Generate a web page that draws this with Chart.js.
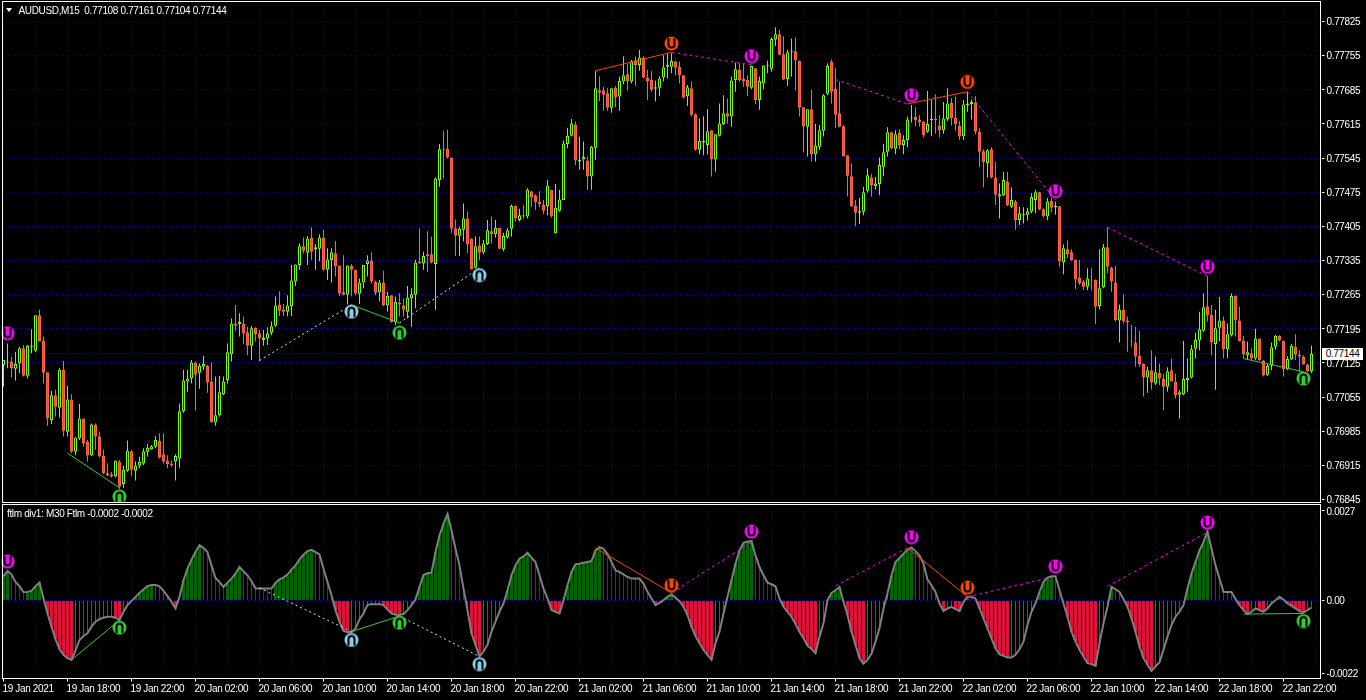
<!DOCTYPE html>
<html>
<head>
<meta charset="utf-8">
<title>AUDUSD,M15</title>
<script src="https://cdn.jsdelivr.net/npm/chart.js@4/dist/chart.umd.min.js"></script>
<style>
  html, body { margin: 0; padding: 0; background: #000; overflow: hidden; }
  #wrap { position: relative; width: 1366px; height: 700px; background: #000; }
  canvas { position: absolute; left: 0; display: block; }
  .label { position: absolute; color: #fff; font: 10px "Liberation Sans", sans-serif; letter-spacing: -0.35px; white-space: pre; line-height: 12px; }
  #arrow { position: absolute; left: 6px; top: 8px; width: 0; height: 0; border-left: 3.5px solid transparent; border-right: 3.5px solid transparent; border-top: 4px solid #fff; }
  #bidTag { position: absolute; left: 1322px; top: 348px; width: 41px; height: 12px; background: #fff; color: #000; font: 10px "Liberation Sans", sans-serif; letter-spacing: -0.35px; line-height: 12px; text-align: center; }
</style>
</head>
<body>
<div id="wrap">
  <canvas id="mainChart" width="1366" height="503" style="top:0"></canvas>
  <canvas id="subChart" width="1366" height="200" style="top:500px"></canvas>
  <div id="arrow"></div>
  <div class="label" style="left:18.5px;top:4.5px">AUDUSD,M15  0.77108 0.77161 0.77104 0.77144</div>
  <div class="label" style="left:7px;top:507.5px">ftlm div1: M30 Ftlm -0.0002 -0.0002</div>
  <div id="bidTag">0.77144</div>
</div>
<script>
// AUDUSD M15 candles, all prices in 1e-5 units (one row = ten bars)
const opens = [
  77121,77126,77128,77113,77124,77155,77099,77158,77150,77223,
  77171,77106,77008,77059,77033,77111,76984,77050,76943,76970,
  77011,76963,76936,76999,76974,76934,76899,76897,76892,76923,
  76877,76904,76944,76904,76914,76919,76943,76948,76953,76965,
  76938,76925,76919,76923,76929,77026,77087,77093,77126,77105,
  77117,77119,77087,77003,77018,77061,77090,77143,77205,77205,
  77206,77188,77160,77197,77186,77172,77175,77187,77201,77245,
  77234,77230,77242,77292,77326,77364,77351,77382,77358,77359,
  77382,77316,77336,77350,77325,77270,77265,77324,77316,77267,
  77290,77328,77335,77292,77270,77290,77243,77264,77209,77248,
  77243,77230,77258,77265,77333,77329,77348,77348,77328,77500,
  77563,77564,77546,77401,77386,77398,77421,77380,77320,77366,
  77352,77369,77395,77389,77402,77358,77382,77400,77448,77418,
  77428,77425,77477,77469,77456,77450,77447,77480,77391,77437,
  77459,77574,77591,77614,77538,77542,77540,77507,77566,77684,
  77684,77678,77648,77689,77671,77702,77717,77702,77745,77736,
  77751,77710,77706,77687,77689,77710,77732,77732,77743,77732,
  77715,77672,77688,77635,77562,77577,77572,77602,77542,77591,
  77615,77637,77630,77705,77726,77708,77705,77689,77729,77664,
  77698,77733,77728,77788,77799,77758,77707,77763,77764,77744,
  77649,77609,77645,77553,77568,77601,77677,77743,77687,77637,
  77610,77551,77508,77448,77433,77435,77478,77505,77488,77492,
  77527,77558,77598,77564,77597,77572,77582,77626,77629,77624,
  77619,77599,77623,77626,77612,77602,77625,77658,77628,77612,
  77590,77654,77656,77659,77599,77559,77535,77563,77504,77466,
  77469,77496,77445,77456,77418,77429,77429,77435,77459,77475,
  77440,77425,77457,77444,77446,77331,77358,77352,77337,77300,
  77291,77281,77296,77295,77242,77280,77362,77320,77290,77212,
  77234,77212,77170,77167,77139,77123,77095,77110,77083,77105,
  77093,77076,77110,77087,77060,77061,77090,77095,77154,77171,
  77191,77241,77224,77164,77197,77212,77153,77182,77262,77212,
  77171,77141,77145,77134,77175,77130,77101,77119,77158,77181,
  77170,77112,77132,77158,77142,77138,77122,77108
];
const highs = [
  77131,77165,77138,77148,77158,77162,77162,77194,77223,77234,
  77179,77106,77068,77070,77114,77129,77078,77061,76972,77041,
  77011,76967,77001,77001,76984,76947,76919,76902,76925,76926,
  76914,76966,76947,76923,76932,76950,76959,76957,76975,76981,
  76981,76936,76925,76938,77042,77111,77111,77131,77128,77124,
  77139,77121,77126,77097,77098,77097,77165,77216,77244,77227,
  77220,77199,77201,77198,77193,77193,77198,77210,77261,77272,
  77246,77264,77326,77327,77370,77382,77385,77403,77369,77389,
  77398,77360,77360,77375,77325,77346,77325,77328,77316,77298,
  77326,77346,77352,77294,77295,77314,77271,77264,77261,77268,
  77257,77283,77278,77336,77401,77353,77395,77384,77505,77574,
  77601,77603,77546,77419,77404,77452,77436,77380,77384,77384,
  77377,77418,77425,77418,77402,77392,77401,77450,77448,77441,
  77449,77483,77477,77471,77477,77459,77500,77480,77492,77480,
  77581,77607,77625,77620,77589,77579,77548,77570,77724,77713,
  77691,77688,77688,77693,77712,77754,77739,77746,77753,77767,
  77754,77726,77724,77704,77713,77756,77760,77760,77745,77743,
  77715,77695,77702,77637,77626,77631,77645,77602,77594,77657,
  77674,77667,77712,77741,77739,77739,77715,77734,77729,77712,
  77735,77745,77792,77813,77808,77795,77767,77790,77792,77745,
  77649,77645,77685,77615,77613,77676,77739,77747,77729,77702,
  77613,77551,77534,77459,77463,77486,77524,77513,77506,77546,
  77574,77608,77599,77602,77604,77592,77630,77654,77649,77633,
  77621,77683,77664,77676,77633,77660,77688,77668,77671,77621,
  77664,77681,77665,77672,77606,77563,77563,77567,77537,77493,
  77517,77517,77485,77459,77445,77444,77443,77473,77480,77476,
  77442,77463,77463,77456,77447,77368,77376,77358,77337,77336,
  77295,77319,77319,77296,77358,77369,77403,77322,77324,77245,
  77266,77220,77203,77199,77191,77124,77117,77151,77138,77124,
  77103,77116,77134,77103,77069,77170,77134,77162,77187,77230,
  77268,77303,77244,77234,77260,77220,77206,77268,77264,77240,
  77180,77169,77155,77195,77175,77131,77124,77167,77183,77182,
  77171,77139,77164,77184,77151,77141,77124,77161
];
const lows = [
  77076,77114,77095,77089,77104,77097,77093,77145,77147,77169,
  77083,76996,77000,77015,77013,76974,76974,76940,76936,76967,
  76953,76923,76934,76947,76931,76897,76893,76890,76890,76866,
  76869,76902,76893,76884,76909,76916,76933,76947,76950,76929,
  76919,76909,76912,76884,76910,77023,77066,77083,77027,77072,
  77111,77064,77003,76996,77015,77059,77083,77128,77191,77179,
  77164,77141,77131,77169,77128,77160,77162,77182,77199,77221,
  77221,77220,77221,77283,77316,77350,77326,77336,77316,77333,
  77314,77295,77290,77302,77262,77264,77245,77261,77264,77246,
  77278,77302,77288,77264,77251,77242,77230,77208,77203,77220,
  77220,77216,77199,77237,77329,77316,77312,77329,77234,77486,
  77503,77544,77391,77344,77344,77374,77350,77316,77318,77335,
  77348,77367,77370,77382,77358,77354,77380,77384,77415,77415,
  77421,77421,77445,77439,77444,77430,77428,77423,77391,77435,
  77459,77565,77589,77531,77521,77521,77480,77480,77541,77662,
  77642,77642,77638,77649,77642,77697,77683,77698,77693,77724,
  77708,77664,77681,77661,77672,77702,77708,77719,77715,77698,
  77667,77652,77630,77560,77553,77551,77553,77507,77517,77589,
  77613,77616,77609,77681,77702,77691,77672,77686,77656,77644,
  77686,77719,77722,77775,77756,77705,77693,77712,77683,77630,
  77557,77548,77538,77538,77562,77589,77674,77657,77607,77608,
  77548,77466,77445,77406,77410,77428,77474,77466,77480,77469,
  77508,77548,77563,77553,77563,77553,77567,77618,77611,77609,
  77587,77597,77590,77595,77587,77595,77621,77612,77601,77582,
  77582,77640,77624,77594,77527,77485,77505,77503,77449,77421,
  77467,77447,77442,77398,77408,77411,77417,77432,77432,77438,
  77423,77418,77434,77429,77322,77307,77340,77334,77276,77285,
  77274,77274,77274,77205,77235,77278,77309,77271,77210,77167,
  77206,77148,77157,77117,77117,77056,77064,77070,77080,77080,
  77028,77066,77087,77052,77011,77059,77066,77093,77134,77151,
  77189,77210,77141,77070,77169,77134,77134,77179,77179,77169,
  77134,77131,77131,77131,77130,77097,77098,77110,77152,77169,
  77097,77110,77131,77131,77107,77122,77107,77104
];
const closes = [
  77131,77128,77114,77123,77155,77099,77160,77161,77223,77169,
  77105,77011,77059,77035,77111,76986,77050,76943,76972,77011,
  76960,76935,76999,76974,76933,76899,76895,76892,76925,76871,
  76906,76945,76906,76915,76922,76944,76951,76954,76967,76931,
  76923,76918,76916,76934,77026,77089,77093,77126,77101,77119,
  77123,77085,77004,77018,77065,77087,77147,77206,77201,77209,
  77186,77160,77196,77184,77175,77176,77186,77200,77243,77232,
  77230,77243,77294,77327,77364,77355,77380,77353,77362,77382,
  77316,77337,77352,77324,77268,77265,77325,77316,77268,77290,
  77326,77335,77292,77269,77290,77244,77262,77209,77250,77245,
  77234,77259,77266,77331,77329,77344,77344,77331,77503,77563,
  77562,77546,77400,77386,77400,77421,77369,77317,77364,77351,
  77370,77397,77389,77402,77359,77385,77397,77447,77421,77428,
  77425,77480,77464,77455,77451,77437,77489,77425,77443,77460,
  77575,77591,77616,77540,77541,77547,77507,77568,77688,77679,
  77675,77648,77688,77669,77703,77715,77702,77743,77736,77751,
  77710,77702,77685,77690,77708,77731,77736,77744,77730,77715,
  77669,77690,77634,77562,77580,77580,77600,77543,77594,77616,
  77637,77630,77704,77727,77705,77703,77691,77734,77664,77703,
  77735,77734,77789,77799,77757,77706,77762,77764,77746,77648,
  77611,77645,77553,77571,77602,77674,77734,77681,77634,77609,
  77548,77509,77447,77433,77436,77475,77510,77490,77493,77531,
  77557,77598,77565,77594,77572,77582,77624,77627,77623,77619,
  77592,77615,77624,77623,77602,77626,77657,77627,77615,77589,
  77655,77657,77660,77599,77558,77537,77561,77505,77470,77471,
  77500,77449,77459,77418,77432,77431,77436,77465,77475,77440,
  77426,77456,77443,77447,77333,77360,77348,77336,77296,77289,
  77281,77298,77294,77240,77278,77362,77322,77292,77213,77234,
  77211,77208,77169,77138,77122,77095,77110,77085,77106,77093,
  77076,77108,77087,77059,77065,77092,77095,77153,77172,77194,
  77239,77223,77167,77196,77212,77153,77184,77262,77212,77170,
  77143,77147,77134,77175,77130,77100,77119,77157,77180,77171,
  77112,77133,77160,77142,77138,77122,77108,77144
];

// Ftlm indicator values, 1e-5 units
const ftlm = [
  73,89,79,56,43,25,26,29,43,54,
  6,-39,-79,-117,-147,-164,-174,-179,-151,-119,
  -107,-99,-79,-64,-56,-52,-49,-49,-52,-59,
  -34,-14,-1,11,23,33,43,47,47,43,
  29,13,-4,-24,11,61,96,123,146,167,
  158,146,106,68,56,41,54,66,81,101,
  88,76,58,37,36,36,36,36,53,64,
  69,78,93,106,124,138,149,153,146,139,
  96,56,16,-29,-64,-91,-96,-96,-84,-57,
  -39,-13,-11,-11,-11,-14,-27,-39,-43,-44,
  -41,-29,-14,3,41,77,82,84,146,196,
  231,261,211,156,106,36,-29,-99,-134,-169,
  -154,-134,-94,-64,-34,-9,31,76,106,126,
  133,144,129,116,76,36,6,-29,-34,-39,
  1,46,86,109,111,114,116,119,151,161,
  156,141,116,91,86,79,71,66,66,66,
  51,26,6,-14,-7,1,11,18,9,-2,
  -19,-44,-79,-107,-129,-149,-164,-179,-129,-94,
  -39,11,61,111,151,174,178,179,136,101,
  76,54,49,43,6,-19,-34,-49,-71,-94,
  -114,-136,-146,-159,-109,-69,1,23,31,41,
  -4,-44,-94,-134,-174,-191,-179,-161,-124,-84,
  -24,21,76,116,128,141,153,160,149,136,
  111,63,46,26,-9,-32,-24,-19,-26,-32,
  -4,11,11,6,-24,-54,-84,-114,-144,-162,
  -167,-172,-172,-164,-147,-124,-74,-34,-9,26,
  56,69,73,73,31,-9,-49,-94,-124,-149,
  -169,-189,-192,-197,-129,-69,-19,41,34,26,
  4,-19,-54,-94,-139,-174,-194,-212,-199,-186,
  -149,-109,-74,-49,-34,-14,36,81,116,151,
  176,208,156,106,66,26,26,26,4,-14,
  -29,-41,-34,-24,-29,-34,-24,-9,1,11,
  3,-9,-16,-24,-32,-36,-29,-21
];

// axis labels
const priceTicks = [77825,77755,77685,77615,77545,77475,77405,77335,77265,77195,77125,77055,76985,76915,76845];
const levelTicks = [77405,77335,77265,77195,77125];
const ftlmTicks = [270,0,-220];
const timeLabels = ['19 Jan 2021','19 Jan 18:00','19 Jan 22:00','20 Jan 02:00','20 Jan 06:00','20 Jan 10:00','20 Jan 14:00',
  '20 Jan 18:00','20 Jan 22:00','21 Jan 02:00','21 Jan 06:00','21 Jan 10:00','21 Jan 14:00','21 Jan 18:00','21 Jan 22:00',
  '22 Jan 02:00','22 Jan 06:00','22 Jan 10:00','22 Jan 14:00','22 Jan 18:00','22 Jan 22:00'];

// signal arrows: [bar, value]
const magentaMain = [[1,77186],[187,77754],[227,77674],[263,77477],[301,77322]];
const orangeMain = [[167,77780],[241,77701]];
const skyMain = [[87,77230],[119,77305]];
const greenMain = [[29,76851],[99,77187],[325,77093]];
const magentaSub = [[1,118],[187,208],[227,191],[263,103],[301,235]];
const orangeSub = [[167,46],[241,39]];
const skySub = [[87,-119],[119,-192]];
const greenSub = [[29,-82],[99,-67],[325,-62]];

// divergence lines: [bar, value, bar, value]
const greenLinesMain = [[16,76940,29,76869],[87,77244,99,77207],[310,77134,325,77107]];
const skyLinesMain = [[64,77130,87,77244],[99,77207,119,77320]];
const orangeLinesMain = [[148,77724,167,77762],[226,77656,241,77681]];
const magentaLinesMain = [[167,77762,187,77736],[208,77706,226,77656],[241,77681,263,77459],[276,77403,301,77303]];
const greenLinesSub = [[17,-179,29,-59],[87,-94,99,-47],[310,-41,325,-39]];
const skyLinesSub = [[64,38,87,-94],[99,-47,119,-169]];
const orangeLinesSub = [[148,158,167,23],[226,159,241,11]];
const magentaLinesSub = [[167,23,187,176],[208,44,226,159],[241,11,263,73],[276,43,301,206]];

const SCALE = 1e-5;
const BAR_COUNT = 330;
const GRID_NAVY = '#000078';
const GRID_BLUE = '#0000a8';
const UP = '#7cfc00';
const DOWN = '#ff6347';
const COL_MAGENTA = '#ff00ff';
const COL_ORANGE = '#ff4500';
const COL_SKY = '#87ceeb';
const COL_GREEN = '#32cd32';

Chart.defaults.font.family = '"Liberation Sans", sans-serif';
Chart.defaults.font.size = 10;
Chart.defaults.color = '#fff';

// circle glyph with a black U around a stem, used as pointStyle
function makeArrow(color, up) {
  const c = document.createElement('canvas');
  c.width = 15;
  c.height = 15;
  const g = c.getContext('2d');
  g.fillStyle = color;
  g.beginPath();
  g.arc(7.5, 7.5, 7, 0, Math.PI * 2);
  g.fill();
  g.strokeStyle = '#000';
  g.lineWidth = 2;
  g.beginPath();
  if (up) {
    g.arc(7.5, 6.5, 3, Math.PI, 0);
    g.moveTo(4.5, 6.5); g.lineTo(4.5, 13);
    g.moveTo(10.5, 6.5); g.lineTo(10.5, 13);
  } else {
    g.arc(7.5, 8.5, 3, 0, Math.PI);
    g.moveTo(4.5, 8.5); g.lineTo(4.5, 2);
    g.moveTo(10.5, 8.5); g.lineTo(10.5, 2);
  }
  g.stroke();
  return c;
}

function markerSet(list, color, up) {
  return {
    type: 'line',
    data: list.map(m => ({ x: m[0], y: m[1] * SCALE })),
    showLine: false,
    pointStyle: makeArrow(color, up),
    order: 1
  };
}

function segments(list, color, dash) {
  return list.map(s => ({
    type: 'line',
    data: [{ x: s[0], y: s[1] * SCALE }, { x: s[2], y: s[3] * SCALE }],
    borderColor: color,
    borderWidth: 1,
    borderDash: dash,
    pointRadius: 0,
    order: 2
  }));
}

// white pane frame, and tighter letters for the axis text
const frame = {
  id: 'frame',
  beforeDraw(chart) {
    chart.ctx.letterSpacing = '-0.35px';
  },
  afterDraw(chart) {
    const a = chart.chartArea;
    const ctx = chart.ctx;
    ctx.save();
    ctx.strokeStyle = '#fff';
    ctx.lineWidth = 1;
    ctx.strokeRect(2.5, a.top, 1318, a.bottom - a.top);
    ctx.restore();
  }
};

// scales must not reserve room for half a label, the plot area is fixed
function noPadding(scale) {
  scale.paddingLeft = 0;
  scale.paddingRight = 0;
  scale.paddingTop = 0;
  scale.paddingBottom = 0;
}

function xAxis(showLabels) {
  return {
    type: 'linear',
    min: -0.5,
    max: BAR_COUNT - 0.5,
    offset: false,
    afterBuildTicks(scale) {
      const t = [];
      for (let v = 0; v < BAR_COUNT; v += 8) t.push({ value: v });
      scale.ticks = t;
    },
    afterFit(scale) {
      noPadding(scale);
      if (showLabels) scale.height = 21.5;
    },
    grid: {
      offset: false,
      color: GRID_NAVY,
      drawTicks: showLabels,
      tickLength: 3,
      tickColor: c => (c.tick && c.tick.value % 16 === 0 ? '#fff' : 'rgba(0,0,0,0)')
    },
    border: { display: false, dash: [3, 3] },
    ticks: {
      display: showLabels,
      autoSkip: false,
      maxRotation: 0,
      minRotation: 0,
      align: 'start',
      padding: 2,
      labelOffset: -1,
      color: '#fff',
      callback: v => (v % 16 === 0 ? timeLabels[v / 16] : '')
    }
  };
}

// main pane datasets
const barIdx = opens.map((o, i) => i);
const upBars = barIdx.filter(i => closes[i] >= opens[i]);
const downBars = barIdx.filter(i => closes[i] < opens[i]);
const bid = closes[closes.length - 1] * SCALE;

function wickSet(idx, color) {
  return {
    data: idx.map(i => ({ x: i, y: [lows[i] * SCALE, highs[i] * SCALE] })),
    backgroundColor: color,
    grouped: false,
    barPercentage: 1,
    maxBarThickness: 1,
    order: 5
  };
}
function bodySet(idx, border, fill) {
  return {
    data: idx.map(i => ({ x: i, y: [opens[i] * SCALE, closes[i] * SCALE] })),
    backgroundColor: fill,
    borderColor: border,
    borderWidth: 1,
    borderSkipped: false,
    grouped: false,
    barPercentage: 1,
    maxBarThickness: 3,
    minBarLength: 1,
    order: 4
  };
}

new Chart(document.getElementById('mainChart'), {
  type: 'bar',
  data: {
    datasets: [
      {
        type: 'line',
        data: [{ x: -0.5, y: bid }, { x: BAR_COUNT - 0.5, y: bid }],
        borderColor: '#00008b',
        borderWidth: 1,
        pointRadius: 0,
        order: 6
      },
      wickSet(upBars, UP),
      wickSet(downBars, DOWN),
      bodySet(upBars, UP, '#000'),
      bodySet(downBars, DOWN, '#e8503c'),
      ...segments(greenLinesMain, COL_GREEN, []),
      ...segments(skyLinesMain, '#bfe6f5', [2, 3]),
      ...segments(orangeLinesMain, COL_ORANGE, []),
      ...segments(magentaLinesMain, COL_MAGENTA, [3, 3]),
      markerSet(magentaMain, COL_MAGENTA, false),
      markerSet(orangeMain, COL_ORANGE, false),
      markerSet(skyMain, COL_SKY, true),
      markerSet(greenMain, COL_GREEN, true)
    ]
  },
  plugins: [frame],
  options: {
    responsive: false,
    animation: false,
    events: [],
    layout: { autoPadding: false, padding: { left: 1.5, top: 1.5, right: 0, bottom: 0.5 } },
    plugins: { legend: { display: false }, tooltip: { enabled: false }, title: { display: false } },
    scales: {
      x: xAxis(false),
      y: {
        position: 'right',
        min: 0.768389,
        max: 0.77866,
        afterBuildTicks(scale) { scale.ticks = priceTicks.map(p => ({ value: p * SCALE })); },
        afterFit(scale) {
          noPadding(scale);
          scale.width = 44.5;
        },
        grid: {
          color: c => (c.tick && levelTicks.includes(Math.round(c.tick.value / SCALE)) ? GRID_BLUE : GRID_NAVY),
          tickColor: '#fff',
          tickLength: 3
        },
        border: { display: false, dash: [3, 3] },
        ticks: { padding: 2, labelOffset: 1, color: '#fff', callback: v => v.toFixed(5) }
      }
    }
  }
});

// indicator pane datasets, thick bars while the swing grows, thin while it fades
const ftlmPoints = ftlm.map((v, i) => ({ x: i, y: v * SCALE }));
const growing = ftlmPoints.filter((p, i) => i === 0 || Math.abs(ftlm[i]) > Math.abs(ftlm[i - 1]));
const fading = ftlmPoints.filter((p, i) => i !== 0 && Math.abs(ftlm[i]) <= Math.abs(ftlm[i - 1]));
const histColor = c => (c.raw && c.raw.y >= 0 ? '#006400' : '#dc143c');

new Chart(document.getElementById('subChart'), {
  type: 'bar',
  data: {
    datasets: [
      { data: growing, backgroundColor: histColor, grouped: false, barPercentage: 1, maxBarThickness: 3, order: 5 },
      { data: fading, backgroundColor: histColor, grouped: false, barPercentage: 1, maxBarThickness: 1, order: 5 },
      { type: 'line', data: ftlmPoints, borderColor: '#808080', borderWidth: 2, pointRadius: 0, tension: 0, order: 3 },
      ...segments(greenLinesSub, COL_GREEN, []),
      ...segments(skyLinesSub, '#bfe6f5', [2, 3]),
      ...segments(orangeLinesSub, COL_ORANGE, []),
      ...segments(magentaLinesSub, COL_MAGENTA, [3, 3]),
      markerSet(magentaSub, COL_MAGENTA, false),
      markerSet(orangeSub, COL_ORANGE, false),
      markerSet(skySub, COL_SKY, true),
      markerSet(greenSub, COL_GREEN, true)
    ]
  },
  plugins: [frame],
  options: {
    responsive: false,
    animation: false,
    events: [],
    layout: { autoPadding: false, padding: { left: 1.5, top: 4.5, right: 0, bottom: 0 } },
    plugins: { legend: { display: false }, tooltip: { enabled: false }, title: { display: false } },
    scales: {
      x: xAxis(true),
      y: {
        position: 'right',
        min: -0.002353,
        max: 0.002896,
        afterBuildTicks(scale) { scale.ticks = ftlmTicks.map(v => ({ value: v * SCALE })); },
        afterFit(scale) {
          noPadding(scale);
          scale.width = 44.5;
        },
        grid: {
          color: c => (c.tick && c.tick.value === 0 ? GRID_BLUE : 'rgba(0,0,0,0)'),
          tickColor: '#fff',
          tickLength: 3
        },
        border: { display: false, dash: [3, 3] },
        ticks: { padding: 2, labelOffset: 1, color: '#fff', callback: v => (v === 0 ? '0.00' : v.toFixed(4)) }
      }
    }
  }
});
</script>
</body>
</html>
